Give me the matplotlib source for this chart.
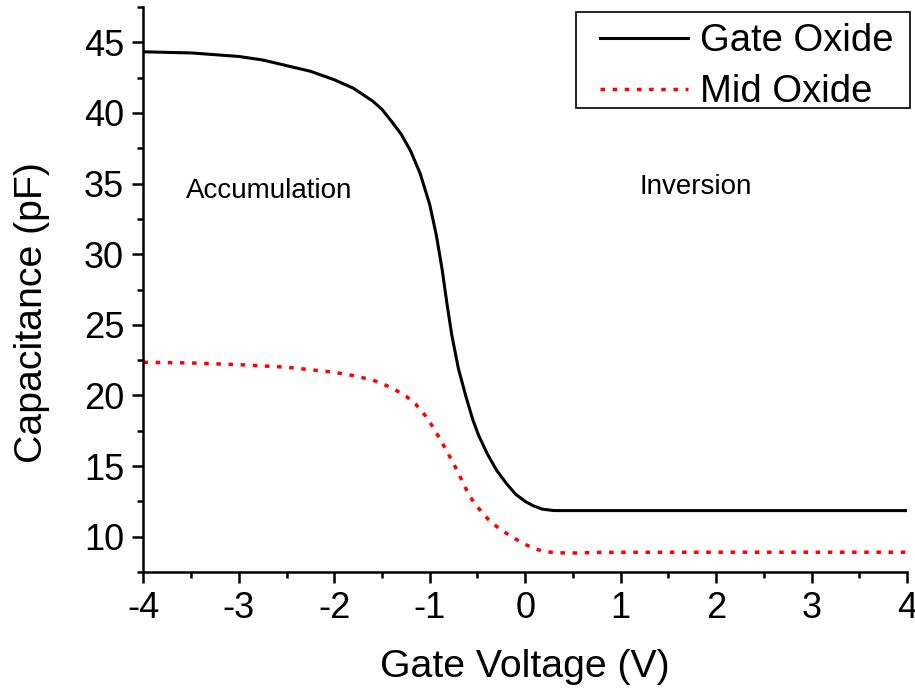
import matplotlib
matplotlib.use("Agg")
import matplotlib.pyplot as plt
from matplotlib.patches import Rectangle
from matplotlib.ticker import MultipleLocator

plt.rcParams['font.family'] = ['Liberation Sans', 'DejaVu Sans']
plt.rcParams['axes.unicode_minus'] = False

# C-V curves (gate voltage in V, capacitance in pF)
gate_v = [-4.0, -3.5, -3.0, -2.75, -2.5, -2.25, -2.0, -1.8, -1.6, -1.5,
          -1.4, -1.3, -1.2, -1.1, -1.0, -0.93, -0.87, -0.82, -0.77, -0.70,
          -0.62, -0.55, -0.49, -0.40, -0.30, -0.20, -0.10, 0.0, 0.08, 0.18,
          0.3, 0.5, 1.0, 2.0, 3.0, 4.0]
gate_c = [44.33, 44.25, 44.0, 43.75, 43.35, 42.95, 42.35, 41.75, 40.85, 40.25,
          39.4, 38.5, 37.3, 35.7, 33.5, 31.3, 28.9, 26.5, 24.3, 21.9,
          19.9, 18.3, 17.2, 15.9, 14.7, 13.8, 13.0, 12.5, 12.2, 11.95,
          11.85, 11.85, 11.85, 11.85, 11.85, 11.85]

mid_v = [-4.0, -3.5, -3.0, -2.5, -2.0, -1.8, -1.6, -1.4, -1.25, -1.15,
         -1.05, -0.97, -0.90, -0.83, -0.76, -0.70, -0.64, -0.58, -0.50, -0.39,
         -0.27, -0.14, -0.03, 0.10, 0.22, 0.35, 0.47, 0.81, 2.0, 3.0, 4.0]
mid_c = [22.35, 22.3, 22.18, 22.0, 21.64, 21.4, 21.1, 20.55, 19.95, 19.4,
         18.6, 17.8, 17.0, 16.15, 15.3, 14.5, 13.65, 12.84, 12.1, 11.25,
         10.55, 10.0, 9.55, 9.14, 8.93, 8.86, 8.84, 8.89, 8.9, 8.9, 8.9]

fig = plt.figure(figsize=(9.15, 6.89), dpi=100)
ax = fig.add_axes([0.1568, 0.1698, 0.8344, 0.8200])

ax.plot(gate_v, gate_c, color='black', lw=2.2, solid_joinstyle='round',
        label='Gate Oxide')
ax.plot(mid_v, mid_c, color='red', lw=2.5, dashes=(1.3, 2.2),
        dash_capstyle='butt', label='Mid Oxide')

ax.set_xlim(-4, 4)
ax.set_ylim(7.5, 47.5)
ax.xaxis.set_major_locator(MultipleLocator(1))
ax.xaxis.set_minor_locator(MultipleLocator(0.5))
ax.yaxis.set_major_locator(MultipleLocator(5))
ax.yaxis.set_minor_locator(MultipleLocator(2.5))

for side in ('top', 'right'):
    ax.spines[side].set_visible(False)
for side in ('left', 'bottom'):
    ax.spines[side].set_linewidth(1.8)

ax.tick_params(which='major', direction='out', length=8, width=1.8,
               labelsize=26, pad=6)
ax.tick_params(which='minor', direction='out', length=4.5, width=1.8)

ax.set_xlabel('Gate Voltage (V)', fontsize=28.3, labelpad=16)
ax.set_ylabel('Capacitance (pF)', fontsize=28.3)
ax.yaxis.set_label_coords(-0.1225, 0.46)

ax.text(-2.68, 34.5, 'Accumulation', fontsize=20, ha='center', va='center')
ax.text(1.79, 34.75, 'Inversion', fontsize=20, ha='center', va='center')

# legend entries without their own frame; box drawn separately so the
# padding can be wider at the sides than at top and bottom
ax.legend(loc='upper left', bbox_to_anchor=(0.6557, 0.966),
          bbox_transform=fig.transFigure, fontsize=27.5, frameon=False,
          handlelength=2.3, handletextpad=0.31, labelspacing=0.39,
          borderpad=0, borderaxespad=0)
fig.patches.append(Rectangle((0.6295, 0.8433), 0.365, 0.1398,
                             transform=fig.transFigure, fill=False,
                             edgecolor='black', lw=1.2, zorder=5))

fig.savefig('out.png', dpi=100)
